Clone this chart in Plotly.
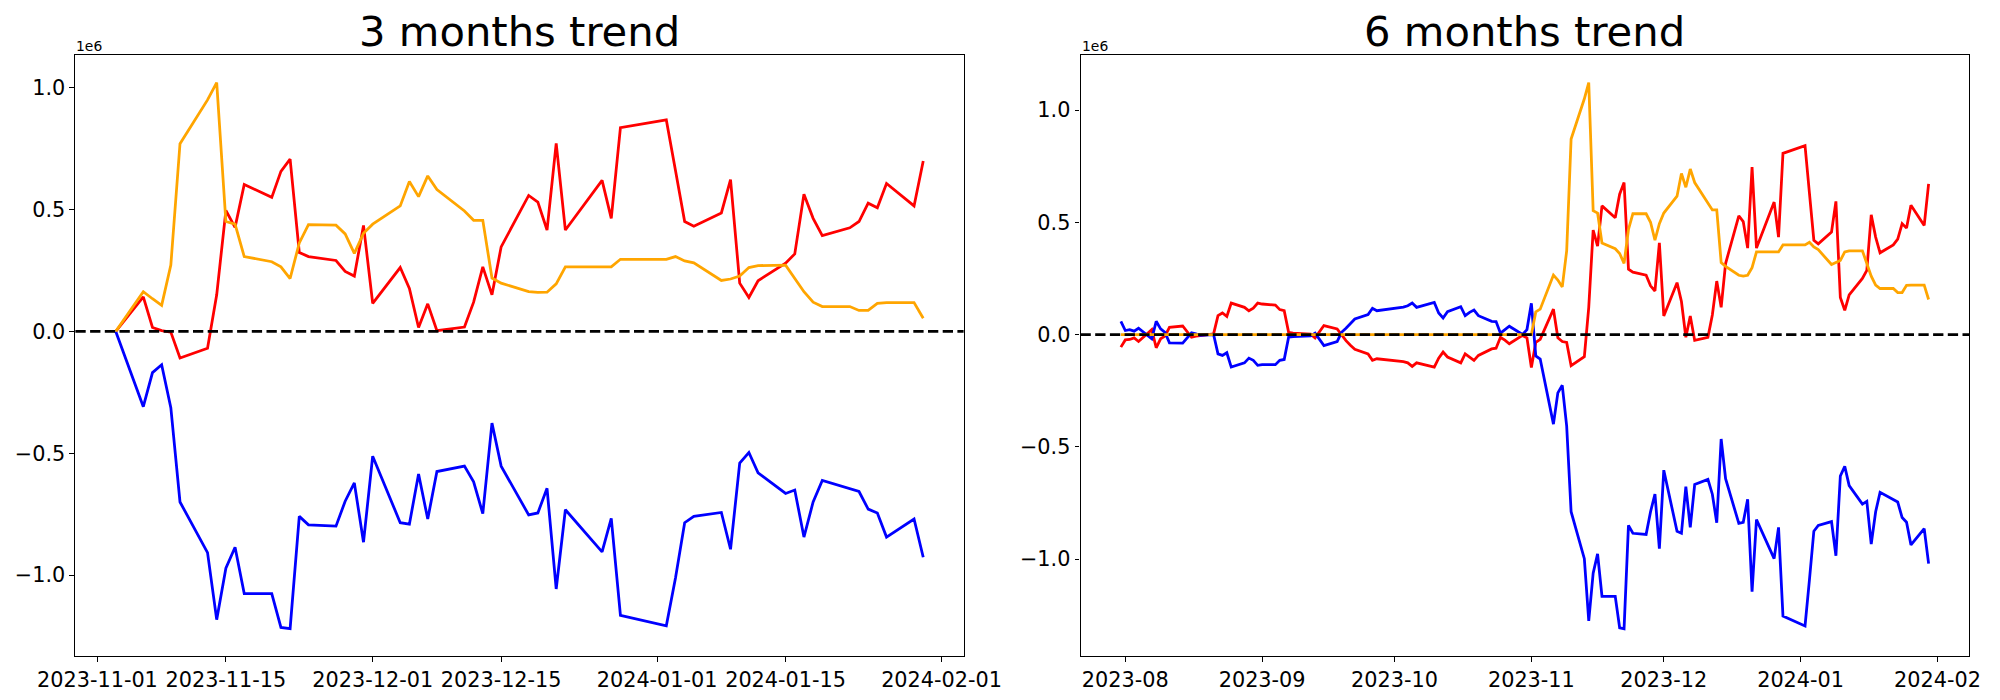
import pandas as pd
import plotly.graph_objects as go

# ---------------- 3 months trend (values in units of 1e6) ----------------
dates_3m = """
2023-11-03
2023-11-06 2023-11-07 2023-11-08 2023-11-09 2023-11-10
2023-11-13 2023-11-14 2023-11-15 2023-11-16 2023-11-17
2023-11-20 2023-11-21 2023-11-22 2023-11-23 2023-11-24
2023-11-27 2023-11-28 2023-11-29 2023-11-30 2023-12-01
2023-12-04 2023-12-05 2023-12-06 2023-12-07 2023-12-08
2023-12-11 2023-12-12 2023-12-13 2023-12-14 2023-12-15
2023-12-18 2023-12-19 2023-12-20 2023-12-21 2023-12-22
2023-12-26 2023-12-27 2023-12-28
2024-01-02 2024-01-03 2024-01-04 2024-01-05
2024-01-08 2024-01-09 2024-01-10 2024-01-11 2024-01-12
2024-01-15 2024-01-16 2024-01-17 2024-01-18 2024-01-19
2024-01-22 2024-01-23 2024-01-24 2024-01-25 2024-01-26
2024-01-29 2024-01-30
""".split()

red_3m = [0.0,
          0.142, 0.016, 0.003, -0.003, -0.109,
          -0.069, 0.150, 0.496, 0.427, 0.603,
          0.550, 0.657, 0.707, 0.324, 0.307,
          0.291, 0.246, 0.227, 0.435, 0.115,
          0.262, 0.176, 0.016, 0.113, 0.003,
          0.018, 0.120, 0.265, 0.150, 0.347,
          0.558, 0.531, 0.416, 0.772, 0.416,
          0.620, 0.464, 0.836,
          0.868, 0.660, 0.451, 0.432,
          0.486, 0.623, 0.198, 0.139, 0.208,
          0.280, 0.318, 0.563, 0.464, 0.393,
          0.425, 0.451, 0.526, 0.507, 0.607,
          0.515, 0.699]

blue_3m = [0.0,
           -0.309, -0.169, -0.137, -0.313, -0.700,
           -0.908, -1.183, -0.972, -0.886, -1.076,
           -1.076, -1.215, -1.220, -0.759, -0.794,
           -0.799, -0.697, -0.622, -0.865, -0.512,
           -0.785, -0.791, -0.585, -0.770, -0.575,
           -0.553, -0.617, -0.748, -0.376, -0.553,
           -0.753, -0.745, -0.644, -1.057, -0.732,
           -0.905, -0.767, -1.165,
           -1.208, -1.012, -0.785, -0.759,
           -0.743, -0.894, -0.540, -0.497, -0.580,
           -0.665, -0.651, -0.844, -0.700, -0.612,
           -0.646, -0.657, -0.729, -0.745, -0.844,
           -0.770, -0.927]

orange_3m = [0.0,
             0.163, 0.134, 0.107, 0.272, 0.770,
             0.950, 1.021, 0.451, 0.440, 0.307,
             0.286, 0.265, 0.217, 0.363, 0.438,
             0.436, 0.400, 0.320, 0.403, 0.440,
             0.515, 0.615, 0.553, 0.638, 0.582,
             0.494, 0.456, 0.456, 0.219, 0.198,
             0.163, 0.160, 0.161, 0.195, 0.265,
             0.265, 0.265, 0.296,
             0.296, 0.307, 0.289, 0.281,
             0.209, 0.215, 0.227, 0.262, 0.270,
             0.272, 0.219, 0.163, 0.120, 0.102,
             0.102, 0.086, 0.086, 0.115, 0.118,
             0.118, 0.054]

# ---------------- 6 months trend (values in units of 1e6) ----------------
dates_6m = """
2023-07-31
2023-08-01 2023-08-02 2023-08-03 2023-08-04
2023-08-07 2023-08-08 2023-08-09 2023-08-10 2023-08-11
2023-08-14 2023-08-15 2023-08-16 2023-08-17 2023-08-18
2023-08-21 2023-08-22 2023-08-23 2023-08-24 2023-08-25
2023-08-28 2023-08-29 2023-08-30 2023-08-31 2023-09-01
2023-09-04 2023-09-05 2023-09-06 2023-09-07 2023-09-08
2023-09-11 2023-09-12 2023-09-13 2023-09-14 2023-09-15
2023-09-18 2023-09-19 2023-09-20 2023-09-21 2023-09-22
2023-09-25 2023-09-26 2023-09-27 2023-09-28 2023-09-29
2023-10-02 2023-10-03 2023-10-04 2023-10-05 2023-10-06
2023-10-09 2023-10-10 2023-10-11 2023-10-12 2023-10-13
2023-10-16 2023-10-17 2023-10-18 2023-10-19 2023-10-20
2023-10-23 2023-10-24 2023-10-25 2023-10-26 2023-10-27
2023-10-30 2023-10-31 2023-11-01 2023-11-02 2023-11-03
2023-11-06 2023-11-07 2023-11-08 2023-11-09 2023-11-10
2023-11-13 2023-11-14 2023-11-15 2023-11-16 2023-11-17
2023-11-20 2023-11-21 2023-11-22 2023-11-23 2023-11-24
2023-11-27 2023-11-28 2023-11-29 2023-11-30 2023-12-01
2023-12-04 2023-12-05 2023-12-06 2023-12-07 2023-12-08
2023-12-11 2023-12-12 2023-12-13 2023-12-14 2023-12-15
2023-12-18 2023-12-19 2023-12-20 2023-12-21 2023-12-22
2023-12-26 2023-12-27 2023-12-28
2024-01-02 2024-01-03 2024-01-04 2024-01-05
2024-01-08 2024-01-09 2024-01-10 2024-01-11 2024-01-12
2024-01-15 2024-01-16 2024-01-17 2024-01-18 2024-01-19
2024-01-22 2024-01-23 2024-01-24 2024-01-25 2024-01-26
2024-01-29 2024-01-30
""".split()

red_6m = [-0.056,
          -0.024, -0.022, -0.015, -0.031,
          0.022, -0.059, -0.019, -0.007, 0.032,
          0.038, 0.013, -0.012, -0.007, -0.004,
          0.003, 0.084, 0.096, 0.081, 0.140,
          0.121, 0.106, 0.117, 0.140, 0.136,
          0.131, 0.111, 0.106, 0.010, 0.006,
          0.003, 0.002, -0.015, 0.012, 0.040,
          0.025, -0.004, -0.027, -0.048, -0.066,
          -0.086, -0.115, -0.108, -0.110, -0.112,
          -0.118, -0.121, -0.126, -0.142, -0.126,
          -0.141, -0.145, -0.105, -0.078, -0.100,
          -0.126, -0.086, -0.100, -0.115, -0.093,
          -0.064, -0.061, -0.012, -0.025, -0.041,
          -0.004, -0.015, -0.147, -0.035, -0.021,
          0.113, -0.014, -0.031, -0.035, -0.139,
          -0.099, 0.121, 0.465, 0.394, 0.573,
          0.520, 0.625, 0.677, 0.291, 0.278,
          0.264, 0.217, 0.194, 0.408, 0.083,
          0.231, 0.147, -0.012, 0.083, -0.026,
          -0.012, 0.087, 0.238, 0.121, 0.316,
          0.529, 0.503, 0.385, 0.746, 0.385,
          0.590, 0.434, 0.807,
          0.841, 0.630, 0.420, 0.404,
          0.456, 0.593, 0.165, 0.108, 0.177,
          0.250, 0.286, 0.533, 0.434, 0.364,
          0.399, 0.425, 0.494, 0.474, 0.576,
          0.486, 0.671]

blue_6m = [0.059,
           0.018, 0.022, 0.015, 0.028,
           -0.019, 0.059, 0.025, 0.010, -0.037,
           -0.038, -0.016, 0.008, 0.003, -0.004,
           0.000, -0.086, -0.093, -0.081, -0.145,
           -0.126, -0.105, -0.115, -0.137, -0.134,
           -0.134, -0.115, -0.111, -0.012, -0.009,
           -0.007, -0.006, 0.006, -0.020, -0.049,
           -0.031, 0.010, 0.028, 0.050, 0.069,
           0.089, 0.117, 0.106, 0.109, 0.111,
           0.118, 0.122, 0.128, 0.140, 0.121,
           0.136, 0.143, 0.096, 0.074, 0.102,
           0.124, 0.084, 0.099, 0.109, 0.084,
           0.059, 0.058, 0.006, 0.020, 0.037,
           0.000, 0.022, 0.139, -0.095, -0.109,
           -0.399, -0.260, -0.226, -0.408, -0.789,
           -0.998, -1.275, -1.063, -0.977, -1.166,
           -1.166, -1.306, -1.310, -0.850, -0.885,
           -0.890, -0.789, -0.711, -0.954, -0.604,
           -0.876, -0.885, -0.677, -0.859, -0.668,
           -0.645, -0.711, -0.838, -0.465, -0.642,
           -0.841, -0.836, -0.734, -1.145, -0.824,
           -0.998, -0.859, -1.254,
           -1.298, -1.093, -0.876, -0.850,
           -0.833, -0.985, -0.630, -0.587, -0.673,
           -0.755, -0.743, -0.933, -0.789, -0.703,
           -0.737, -0.746, -0.815, -0.836, -0.937,
           -0.864, -1.020]

orange_6m = [0.0,
             0.0, 0.0, 0.0, 0.0,
             0.0, 0.0, 0.0, 0.0, 0.0,
             0.0, 0.0, 0.0, 0.0, 0.0,
             0.0, 0.0, 0.0, 0.0, 0.0,
             0.0, 0.0, 0.0, 0.0, 0.0,
             0.0, 0.0, 0.0, 0.0, 0.0,
             0.0, 0.0, 0.0, 0.0, 0.0,
             0.0, 0.0, 0.0, 0.0, 0.0,
             0.0, 0.0, 0.0, 0.0, 0.0,
             0.0, 0.0, 0.0, 0.0, 0.0,
             0.0, 0.0, 0.0, 0.0, 0.0,
             0.0, 0.0, 0.0, 0.0, 0.0,
             0.0, 0.0, 0.0, 0.0, 0.0,
             0.0, 0.0, 0.0, 0.101, 0.113,
             0.265, 0.243, 0.212, 0.373, 0.871,
             1.050, 1.122, 0.552, 0.541, 0.408,
             0.382, 0.361, 0.317, 0.468, 0.538,
             0.538, 0.500, 0.420, 0.494, 0.541,
             0.616, 0.717, 0.656, 0.737, 0.677,
             0.581, 0.555, 0.555, 0.321, 0.304,
             0.264, 0.260, 0.264, 0.298, 0.368,
             0.368, 0.368, 0.399,
             0.399, 0.411, 0.390, 0.378,
             0.312, 0.321, 0.330, 0.368, 0.373,
             0.373, 0.312, 0.260, 0.220, 0.205,
             0.205, 0.187, 0.187, 0.219, 0.220,
             0.220, 0.156]

ticks_3m = ["2023-11-01", "2023-11-15", "2023-12-01", "2023-12-15",
            "2024-01-01", "2024-01-15", "2024-02-01"]
ytick_vals = [-1.0, -0.5, 0.0, 0.5, 1.0]

assert len(dates_3m) == len(red_3m) == len(blue_3m) == len(orange_3m)
assert len(dates_6m) == len(red_6m) == len(blue_6m) == len(orange_6m)

W, H = 2000, 700
FONT = "DejaVu Sans"
LW = 2.78

# axes boxes in pixels (left, right, top, bottom)
ax1 = (75.4, 963.6, 55.3, 656.0)
ax2 = (1080.5, 1969.0, 55.3, 656.0)


def xdom(a):
    return [a[0] / W, a[1] / W]


def ydom(a):
    return [1 - a[3] / H, 1 - a[2] / H]


def xrange_pad(dates):
    d = pd.to_datetime(dates)
    span = d.max() - d.min()
    return [d.min() - 0.05 * span, d.max() + 0.05 * span]


def yrange_pad(*series):
    vals = [v for s in series for v in s]
    lo, hi = min(vals), max(vals)
    pad = 0.05 * (hi - lo)
    return [lo - pad, hi + pad]


fig = go.Figure()
for xs, series, xa, ya in [
    (dates_3m, (red_3m, blue_3m, orange_3m), "x", "y"),
    (dates_6m, (red_6m, blue_6m, orange_6m), "x2", "y2"),
]:
    for ys, col in zip(series, ["red", "blue", "orange"]):
        fig.add_trace(go.Scatter(x=xs, y=ys, mode="lines",
                                 line=dict(color=col, width=LW),
                                 xaxis=xa, yaxis=ya, showlegend=False,
                                 hoverinfo="skip"))

axis_common = dict(showgrid=False, zeroline=False, showline=True, mirror=True,
                   linecolor="black", linewidth=1.1, ticks="outside",
                   ticklen=4.9, tickwidth=1.1, tickcolor="black",
                   tickfont=dict(family=FONT, size=20.8, color="black"),
                   automargin=False)

fig.update_layout(
    width=W, height=H,
    margin=dict(l=0, r=0, t=0, b=0),
    paper_bgcolor="white", plot_bgcolor="white",
    xaxis=dict(domain=xdom(ax1), anchor="y", type="date",
               range=xrange_pad(dates_3m), tickmode="array",
               tickvals=ticks_3m, tickformat="%Y-%m-%d", **axis_common),
    yaxis=dict(domain=ydom(ax1), anchor="x",
               range=yrange_pad(red_3m, blue_3m, orange_3m),
               tickmode="array", tickvals=ytick_vals, tickformat=".1f",
               **axis_common),
    xaxis2=dict(domain=xdom(ax2), anchor="y2", type="date",
                range=xrange_pad(dates_6m), tick0="2023-08-01", dtick="M1",
                tickformat="%Y-%m", **axis_common),
    yaxis2=dict(domain=ydom(ax2), anchor="x2",
                range=yrange_pad(red_6m, blue_6m, orange_6m),
                tickmode="array", tickvals=ytick_vals, tickformat=".1f",
                **axis_common),
)

# zero reference lines (dashed), drawn above the series
for xr, yr in [("x domain", "y"), ("x2 domain", "y2")]:
    fig.add_shape(type="line", xref=xr, yref=yr, x0=0, x1=1, y0=0, y1=0,
                  line=dict(color="black", width=LW, dash="10.3px,4.4px"),
                  layer="above")

# titles and offset texts
for a, title in [(ax1, "3 months trend"), (ax2, "6 months trend")]:
    fig.add_annotation(text=title, xref="paper", yref="paper",
                       x=(a[0] + a[1]) / 2 / W, y=1 - 58.0 / H,
                       xanchor="center", yanchor="bottom", showarrow=False,
                       font=dict(family=FONT, size=41.7, color="black"))
    fig.add_annotation(text="1e6", xref="paper", yref="paper",
                       x=(a[0] - 1) / W, y=1 - 55.5 / H,
                       xanchor="left", yanchor="bottom", showarrow=False,
                       font=dict(family=FONT, size=13.9, color="black"))

fig.write_html("out.html",
               config={"displayModeBar": False},
               post_script="document.body.style.margin='0px';"
                           "document.body.style.padding='0px';")
